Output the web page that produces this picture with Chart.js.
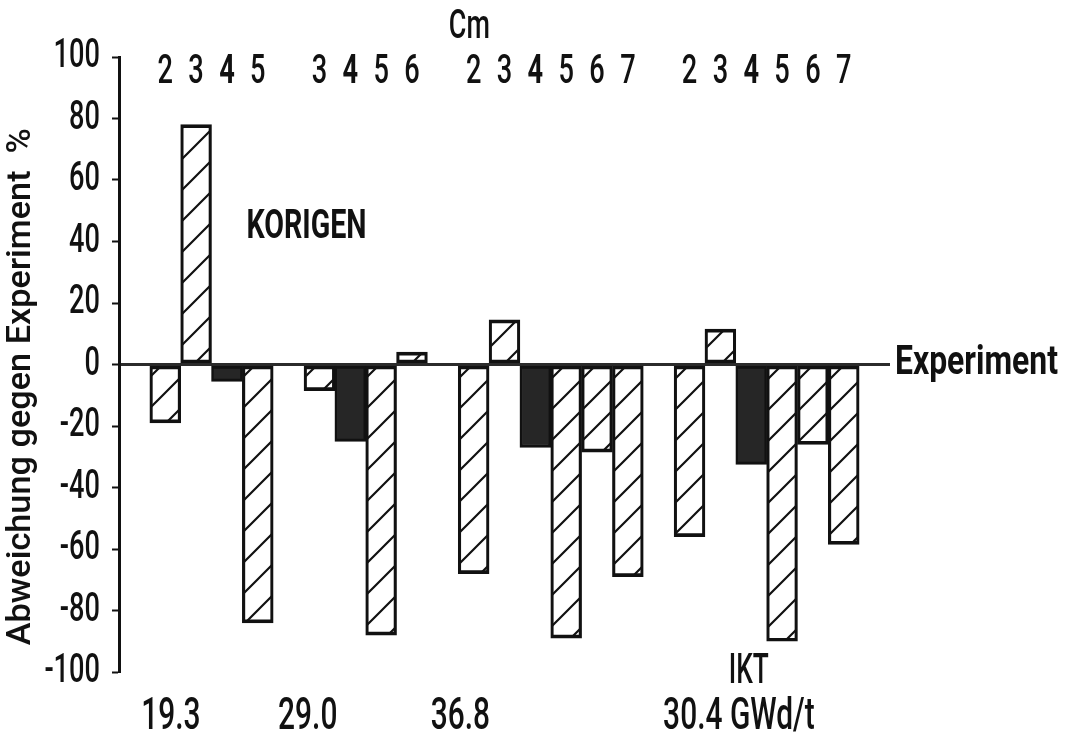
<!DOCTYPE html>
<html>
<head>
<meta charset="utf-8">
<script src="https://cdn.jsdelivr.net/npm/chart.js@4.4.1/dist/chart.umd.min.js"></script>
<style>
  html, body { margin: 0; padding: 0; background: #ffffff; }
  #wrap { width: 1065px; height: 738px; }
</style>
</head>
<body>
<div id="wrap"><canvas id="c" width="1065" height="738"></canvas></div>
<script>
// Deviation of KORIGEN curium isotope predictions from experiment (%),
// one group per burnup value.
const burnupLabels = ['19.3', '29.0', '36.8', '30.4 GWd/t'];
const burnupNote = 'IKT';

const isotopes193 = ['2', '3', '4', '5'];
const deviation193 = [-19, 78, -5.5, -84];

const isotopes290 = ['3', '4', '5', '6'];
const deviation290 = [-8.5, -25, -88, 4];

const isotopes368 = ['2', '3', '4', '5', '6', '7'];
const deviation368 = [-68, 14.5, -27, -89, -28.5, -69];

const isotopes304 = ['2', '3', '4', '5', '6', '7'];
const deviation304 = [-56, 11.5, -32.5, -90, -26, -58.5];

const yTickValues = [-100, -80, -60, -40, -20, 0, 20, 40, 60, 80, 100];

// Slot layout: an empty slot before each group and one after the last.
const slotLabels = [''];
const slotValues = [null];
[[isotopes193, deviation193], [isotopes290, deviation290],
 [isotopes368, deviation368], [isotopes304, deviation304]].forEach(([iso, dev]) => {
  iso.forEach((k, i) => { slotLabels.push(k); slotValues.push(dev[i]); });
  slotLabels.push(''); slotValues.push(null);
});

// Where the burnup captions sit along the slot axis.
const burnupAt = [1.18, 5.62, 10.57, 19.6];
const noteAt = 19.92;

const FACE = "Roboto, 'Liberation Sans', sans-serif";
const INK = '#111111';

const ctx = document.getElementById('c').getContext('2d');

// Condensed lettering: every label is squeezed horizontally around its anchor.
const CONDENSE = 0.68;
const rawFillText = CanvasRenderingContext2D.prototype.fillText;
ctx.fillText = function (text, x, y, maxWidth) {
  this.save();
  this.translate(x, y);
  this.scale(CONDENSE, 1);
  if (maxWidth === undefined || maxWidth === null) rawFillText.call(this, text, 0, 0);
  else rawFillText.call(this, text, 0, 0, maxWidth / CONDENSE);
  this.restore();
};

// Diagonal hatch fill for the open bars
function hatch() {
  const S = 31;
  const c = document.createElement('canvas');
  c.width = S; c.height = S;
  const g = c.getContext('2d');
  g.strokeStyle = INK;
  g.lineWidth = 2.2;
  g.beginPath();
  g.moveTo(-3, S + 3); g.lineTo(S + 3, -3);
  g.moveTo(-3, 3); g.lineTo(3, -3);
  g.moveTo(S - 3, S + 3); g.lineTo(S + 3, S - 3);
  g.stroke();
  return g.createPattern(c, 'repeat');
}
const hatchFill = hatch();
const barFill = slotLabels.map(k => (k === '4' ? '#262626' : hatchFill));

// Text squeezed to a given width
function fitText(g, text, x, y, font, width, align, rot) {
  g.save();
  g.font = font;
  g.fillStyle = INK;
  g.textBaseline = 'middle';
  g.textAlign = align;
  g.translate(x, y);
  if (rot) g.rotate(rot);
  const w = g.measureText(text).width;
  g.scale(width / w, 1);
  rawFillText.call(g, text, 0, 0);
  g.restore();
}

const annotations = {
  id: 'annotations',
  afterDraw(chart) {
    const g = chart.ctx;
    const xs = chart.scales.x, ys = chart.scales.y;
    const area = chart.chartArea;
    fitText(g, 'Cm', xs.getPixelForValue(10.86), ys.getPixelForValue(109.4),
      `500 40px ${FACE}`, 41, 'center');
    fitText(g, 'KORIGEN', xs.getPixelForValue(5.58), ys.getPixelForValue(44.3),
      `bold 40px ${FACE}`, 120, 'center');
    fitText(g, 'Experiment', area.right + 5, ys.getPixelForValue(0) - 1,
      `bold 40px ${FACE}`, 163, 'left');
    fitText(g, burnupNote, xs.getPixelForValue(noteAt), ys.getPixelForValue(-100.3),
      `500 42px ${FACE}`, 40, 'center');
    fitText(g, 'Abweichung gegen Experiment  %', 22, ys.getPixelForValue(-7.2),
      `500 33px ${FACE}`, 517, 'center', -Math.PI / 2);
  }
};

new Chart(ctx, {
  type: 'bar',
  data: {
    labels: slotLabels,
    datasets: [{
      label: 'KORIGEN',
      data: slotValues,
      backgroundColor: barFill,
      borderColor: INK,
      borderWidth: { top: 3, bottom: 3, left: 2.5, right: 2.5 },
      borderSkipped: false,
      barPercentage: 1,
      categoryPercentage: 1,
      xAxisID: 'x',
      yAxisID: 'y'
    }]
  },
  options: {
    responsive: false,
    animation: false,
    events: [],
    layout: { padding: { left: 0, right: 175, top: 0, bottom: 0 } },
    plugins: {
      legend: { display: false },
      tooltip: { enabled: false },
      title: { display: false }
    },
    scales: {
      x: {
        type: 'category',
        position: 'top',
        offset: true,
        grid: { display: false, drawTicks: false, tickLength: 0 },
        border: { display: false },
        ticks: {
          autoSkip: false, maxRotation: 0, minRotation: 0,
          mirror: true,
          color: INK,
          font: c => ({
            family: FACE, size: 40, lineHeight: 1.2,
            weight: c.tick && c.tick.label === '4' ? 'bold' : '500'
          }),
          padding: -8.5
        },
        afterFit(scale) { scale.height = 57; }
      },
      xb: {
        type: 'linear',
        position: 'bottom',
        offset: false,
        min: -0.5,
        max: 24.5,
        grid: { display: false, drawTicks: false, tickLength: 0, offset: false },
        border: { display: false },
        afterBuildTicks(scale) { scale.ticks = burnupAt.map(v => ({ value: v })); },
        ticks: {
          autoSkip: false, maxRotation: 0, minRotation: 0,
          mirror: true,
          color: INK,
          font: { family: FACE, size: 44, weight: '500', lineHeight: 1.2 },
          padding: -72.4,
          callback: (v, i) => burnupLabels[i]
        },
        afterFit(scale) { scale.height = 66; }
      },
      y: {
        type: 'linear',
        position: 'left',
        min: -100,
        max: 100,
        afterBuildTicks(scale) { scale.ticks = yTickValues.map(v => ({ value: v })); },
        grid: {
          color: c => (c.tick && c.tick.value === 0 ? '#2b2b2b' : 'rgba(0,0,0,0)'),
          lineWidth: c => (c.tick && c.tick.value === 0 ? 3 : 1),
          tickColor: INK,
          tickWidth: 2,
          tickLength: 7,
          drawTicks: true
        },
        border: { display: true, color: INK, width: 3 },
        ticks: {
          color: INK,
          font: { family: FACE, size: 40, weight: '500' },
          padding: 12,
          callback: v => String(v)
        },
        afterFit(scale) { scale.width = 119; }
      }
    }
  },
  plugins: [annotations]
});
</script>
</body>
</html>
